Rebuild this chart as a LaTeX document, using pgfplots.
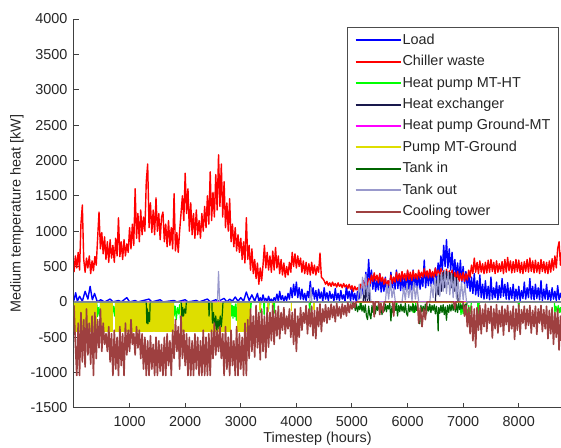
\documentclass[border=0pt]{standalone}
\usepackage{fontspec}
\setmainfont{Liberation Sans}
\usepackage{pgfplots}
\pgfplotsset{compat=1.18}

\definecolor{cload}{rgb}{0,0,1}
\definecolor{cchill}{rgb}{1,0,0}
\definecolor{chpht}{rgb}{0,1,0}
\definecolor{chex}{rgb}{0.1,0.1,0.3}
\definecolor{chpgr}{rgb}{1,0,1}
\definecolor{cpump}{rgb}{0.87,0.87,0}
\definecolor{ctin}{rgb}{0,0.4,0}
\definecolor{ctout}{rgb}{0.6,0.6,0.8}
\definecolor{ctower}{rgb}{0.62,0.25,0.25}

\newcommand{\fs}{\fontsize{7.2}{8.6}\selectfont}

\begin{document}
\fs
\begin{tikzpicture}
\begin{axis}[
    scale only axis,
    width=243.5pt, height=194.5pt,
    xmin=0, xmax=8760, ymin=-1500, ymax=4000,
    xtick={1000,2000,...,8000},
    ytick={-1500,-1000,...,4000},
    axis x line*=bottom, axis y line*=left,
    axis line style={-, black!75, line width=0.5pt},
    tick align=inside, major tick length=2.5pt,
    tick style={black!75, line width=0.5pt},
    /pgf/number format/1000 sep={},
    /pgf/number format/assume math mode=true,
    tick label style={font=\fs, text=black!85},
    xticklabel style={yshift=-1.5pt},
    yticklabel style={xshift=-0.7pt},
    xlabel={Timestep (hours)},
    ylabel={Medium temperature heat [kW]},
    xlabel style={at={(axis description cs:0.5,-0.0797)}, anchor=center, font=\fs, text=black!85},
    ylabel style={at={(axis description cs:-0.117,0.5)}, anchor=center, font=\fs, text=black!85},
    legend style={at={(rel axis cs:0.996,0.979)}, anchor=north east,
        draw=black!70, line width=0.5pt, fill=white,
        inner xsep=3.5pt, inner ysep=3pt, row sep=3.9pt, font=\fs,
        nodes={inner xsep=0.5pt, inner ysep=0pt, text height=5.3pt, text depth=1.5pt, text=black!85}},
    legend cell align=left,
    legend image code/.code={\draw[#1] (0pt,0pt) -- (22.5pt,0pt);},
    every axis plot/.append style={line join=round},
]
\addlegendimage{draw=cload, line width=1pt}\addlegendentry{Load}
\addlegendimage{draw=cchill, line width=1pt}\addlegendentry{Chiller waste}
\addlegendimage{draw=chpht, line width=1pt}\addlegendentry{Heat pump MT-HT}
\addlegendimage{draw=chex, line width=1pt}\addlegendentry{Heat exchanger}
\addlegendimage{draw=chpgr, line width=1pt}\addlegendentry{Heat pump Ground-MT}
\addlegendimage{draw=cpump, line width=1pt}\addlegendentry{Pump MT-Ground}
\addlegendimage{draw=ctin, line width=1pt}\addlegendentry{Tank in}
\addlegendimage{draw=ctout, line width=1pt}\addlegendentry{Tank out}
\addlegendimage{draw=ctower, line width=1pt}\addlegendentry{Cooling tower}

% Load
\addplot[cload, line width=0.7pt, forget plot] coordinates {
(0,20)(30,130)(60,10)(100,80)(150,10)(200,150)(250,40)(290,220)(330,30)(370,120)(420,0)(480,30)(550,0)(650,40)(700,0)(800,20)(850,0)(950,60)(1000,0)(1100,20)(1150,0)(1350,40)(1400,0)(1550,30)(1600,0)(1800,20)(1850,0)(2000,30)(2050,0)(2200,20)(2250,0)(2400,40)(2450,0)(2550,30)(2600,10)(2700,50)(2750,0)(2800,40)(2850,10)(2900,70)(2950,10)(3000,60)(3050,10)(3100,140)(3150,20)(3200,100)(3250,10)
(3300,120)(3325,10)(3350,60)(3375,0)(3400,100)(3425,20)(3450,50)(3475,0)(3500,80)(3525,10)(3550,40)(3575,0)(3600,60)(3625,20)(3650,110)(3675,10)(3700,150)(3725,30)(3750,90)(3775,10)(3800,80)(3825,20)(3850,120)(3875,40)(3900,200)(3925,60)(3950,250)(3975,90)(4000,280)(4025,60)(4050,200)(4075,40)(4100,180)(4125,30)(4150,120)(4175,20)(4200,150)(4225,60)(4250,290)(4275,80)(4300,200)(4325,40)(4350,160)(4375,20)(4400,180)(4425,50)(4450,140)(4475,10)(4500,200)(4525,40)(4550,130)(4575,20)(4600,150)(4625,50)(4650,110)(4675,10)(4700,190)(4725,30)(4750,120)(4775,20)(4800,160)(4825,40)(4850,100)(4875,10)(4900,230)(4925,50)(4950,150)(4975,20)
(5000,180)(5025,30)(5050,120)(5075,10)(5100,150)(5125,40)(5150,200)(5175,100)(5200,300)(5225,150)(5250,420)(5275,200)(5300,600)(5325,220)(5350,450)(5375,180)(5400,380)(5425,150)(5450,300)(5475,170)(5500,400)(5525,140)(5550,320)(5575,150)(5600,350)(5625,130)(5650,300)(5675,160)(5700,420)(5725,200)(5750,350)(5775,180)(5800,450)(5825,190)(5850,380)(5875,160)(5900,400)(5925,150)(5950,330)(5975,170)(6000,430)(6025,180)(6050,360)(6075,170)(6100,450)(6125,200)(6150,380)(6175,190)(6200,420)(6225,180)(6250,350)(6275,220)(6300,590)(6325,200)(6350,420)(6375,230)(6400,450)(6425,220)(6450,400)(6475,250)(6500,480)(6525,300)(6550,550)(6575,400)(6600,650)(6625,450)(6650,800)(6675,500)(6700,880)(6725,480)(6750,750)(6775,450)(6800,700)(6825,400)(6850,600)(6875,350)(6900,550)(6925,300)(6950,590)(6975,280)
(7000,500)(7025,250)(7050,430)(7075,200)(7100,400)(7125,150)(7150,350)(7175,120)(7200,400)(7225,100)(7250,300)(7275,80)(7300,380)(7325,60)(7350,250)(7375,40)(7400,300)(7425,50)(7450,220)(7475,30)(7500,350)(7525,40)(7550,200)(7575,60)(7600,280)(7625,30)(7650,230)(7675,60)(7700,330)(7725,80)(7750,250)(7775,40)(7800,270)(7825,30)(7850,200)(7875,50)(7900,250)(7925,20)(7950,180)(7975,40)(8000,220)(8025,20)(8050,160)(8075,50)(8100,280)(8125,40)(8150,200)(8175,60)(8200,330)(8225,40)(8250,220)(8275,30)(8300,250)(8325,50)(8350,200)(8375,30)(8400,300)(8425,20)(8450,180)(8475,40)(8500,250)(8525,30)(8550,160)(8575,20)(8600,200)(8625,40)(8650,150)(8675,20)(8700,230)(8725,30)(8750,120)(8760,60)
};

% Chiller waste
\addplot[cchill, line width=0.7pt, forget plot] coordinates {
(0,420)(25,650)(50,480)(75,700)(100,450)(125,1100)(150,1370)(175,600)(200,420)(225,620)(250,480)(275,650)(300,400)(325,580)(350,440)(375,640)(400,520)(425,900)(450,1270)(475,750)(500,980)(525,680)(550,920)(575,600)(600,850)(625,560)(650,880)(675,620)(700,800)(725,560)(750,900)(775,650)(800,1190)(825,640)(850,850)(875,600)(900,880)(925,650)(950,820)(975,700)
(1000,1050)(1025,750)(1050,1100)(1075,800)(1100,1600)(1125,900)(1150,1250)(1175,850)(1200,1300)(1225,950)(1250,1200)(1275,1000)(1300,1700)(1325,1950)(1350,1050)(1375,1400)(1400,980)(1425,1300)(1450,950)(1475,1470)(1500,1000)(1525,1250)(1550,880)(1575,1200)(1600,1270)(1625,850)(1650,1100)(1675,780)(1700,1150)(1725,800)(1750,1050)(1775,750)(1800,1530)(1825,720)(1850,980)(1875,700)(1900,1000)(1925,1250)(1950,1500)(1975,1150)
(2000,1820)(2025,1250)(2050,1600)(2075,1000)(2100,1400)(2125,950)(2150,1250)(2175,900)(2200,1300)(2225,950)(2250,1150)(2275,900)(2300,1250)(2325,1000)(2350,1350)(2375,1050)(2400,1500)(2425,1100)(2450,1840)(2475,1150)(2500,1550)(2525,1200)(2550,1800)(2575,1300)(2600,2080)(2625,1350)(2650,1950)(2675,1200)(2700,1700)(2725,1050)(2750,1400)(2775,1000)(2800,1460)(2825,850)(2850,1100)(2875,780)(2900,1050)(2925,720)(2950,950)(2975,700)
(3000,900)(3025,600)(3050,850)(3075,550)(3100,1190)(3125,600)(3150,800)(3175,450)(3200,750)(3225,400)(3250,600)(3275,330)(3300,550)(3325,250)(3350,480)(3375,300)(3400,520)(3425,800)(3450,480)(3475,700)(3500,450)(3525,650)(3550,420)(3575,720)(3600,450)(3625,770)(3650,480)(3675,650)(3700,400)(3725,600)(3750,380)(3775,550)(3800,350)(3825,500)(3850,380)(3875,560)(3900,420)(3925,700)(3950,500)(3975,680)
(4000,480)(4025,650)(4050,500)(4075,620)(4100,420)(4125,580)(4150,400)(4175,560)(4200,390)(4225,540)(4250,380)(4275,560)(4300,400)(4325,520)(4350,380)(4375,500)(4400,420)(4425,690)(4450,350)(4475,330)
(4500,300)(4525,250)(4550,290)(4575,230)(4600,270)(4625,220)(4650,280)(4675,230)(4700,260)(4725,210)(4750,270)(4775,220)(4800,250)(4825,200)(4850,260)(4875,210)(4900,240)(4925,190)(4950,250)(4975,180)
(5000,230)(5025,150)(5050,220)(5075,170)(5100,200)(5125,150)(5150,250)(5175,190)(5200,300)(5225,220)(5250,280)(5275,240)(5300,330)(5325,260)(5350,380)(5375,290)(5400,410)(5425,300)(5450,380)(5475,270)(5500,400)(5525,290)(5550,350)(5575,250)(5600,330)(5625,230)(5650,300)(5675,220)(5700,380)(5725,260)(5750,350)(5775,280)(5800,420)(5825,300)(5850,400)(5875,290)(5900,430)(5925,320)(5950,400)(5975,300)
(6000,450)(6025,320)(6050,420)(6075,300)(6100,440)(6125,330)(6150,400)(6175,320)(6200,450)(6225,340)(6250,420)(6275,350)(6300,470)(6325,360)(6350,440)(6375,340)(6400,460)(6425,350)(6450,430)(6475,340)(6500,480)(6525,370)(6550,450)(6575,350)(6600,470)(6625,340)(6650,440)(6675,330)(6700,460)(6725,340)(6750,440)(6775,320)(6800,450)(6825,330)(6850,420)(6875,310)(6900,430)(6925,290)(6950,400)(6975,300)
(7000,420)(7025,290)(7050,400)(7075,310)(7100,450)(7125,350)(7150,520)(7175,400)(7200,620)(7225,420)(7250,560)(7275,400)(7300,580)(7325,420)(7350,540)(7375,400)(7400,560)(7425,410)(7450,590)(7475,420)(7500,600)(7525,430)(7550,560)(7575,400)(7600,580)(7625,420)(7650,540)(7675,430)(7700,570)(7725,400)(7750,600)(7775,420)(7800,630)(7825,440)(7850,580)(7875,410)(7900,570)(7925,420)(7950,600)(7975,430)
(8000,590)(8025,410)(8050,560)(8075,400)(8100,570)(8125,430)(8150,600)(8175,420)(8200,620)(8225,430)(8250,580)(8275,410)(8300,590)(8325,420)(8350,560)(8375,400)(8400,600)(8425,430)(8450,570)(8475,410)(8500,560)(8525,400)(8550,580)(8575,420)(8600,610)(8625,450)(8650,650)(8675,480)(8700,750)(8725,850)(8750,520)(8760,700)
};

% Heat pump MT-HT
\addplot[chpht, line width=0.6pt, forget plot] coordinates {
(0,0)(10,-200)(20,-60)(30,0)(410,0)(420,-210)(440,-80)(460,-200)(480,0)(510,-180)(520,-100)(530,0)(680,0)(690,-160)(710,-60)(730,-200)(750,0)(860,0)(870,-180)(890,0)(1430,0)(1440,-100)(1450,0)(1790,0)(1800,-200)(1820,-60)(1840,-250)(1860,-80)(1880,-170)(1900,-40)(1915,-260)(1920,0)(2540,0)(2550,-200)(2560,0)(2820,0)(2830,-200)(2845,-50)(2860,-230)(2875,-60)(2890,-210)(2905,-30)(2920,-260)(2940,0)(3040,0)(3050,-200)(3060,0)(3170,0)(3180,-100)(3190,0)(3340,0)(3350,-150)(3360,0)(3410,0)(3420,-180)(3430,0)(3490,0)(3500,-110)(3510,0)(3590,0)(3600,-160)(3610,0)(4230,0)(4240,-180)(4250,0)(5140,0)(5150,-100)(5170,0)(5790,0)(5800,-120)(5810,0)(6090,0)(6100,-150)(6120,-60)(6140,-140)(6150,0)(6950,0)(6960,-180)(6980,-80)(7000,-170)(7020,-60)(7040,-180)(7060,-100)(7080,-160)(7100,-50)(7120,-170)(7150,0)(7260,0)(7270,-200)(7290,0)(7990,0)(8000,-100)(8010,0)(8640,0)(8650,-150)(8670,-60)(8690,-140)(8710,-50)(8730,-150)(8750,-80)(8760,-150)
};

% Heat exchanger
\addplot[chex, line width=0.6pt, forget plot] coordinates {
(0,0)(5200,0)(5220,200)(5240,0)(5260,250)(5280,20)(5300,230)(5320,0)(6500,0)(6520,300)(6550,100)(6580,380)(6610,150)(6640,420)(6670,200)(6700,430)(6730,250)(6760,420)(6790,200)(6820,400)(6850,150)(6880,350)(6910,0)(8760,0)
};

% Heat pump Ground-MT
\addplot[chpgr, line width=0.5pt, forget plot] coordinates {(0,0)(8760,0)};

% Pump MT-Ground
\addplot[cpump, fill=cpump, const plot, line width=0.3pt, forget plot] coordinates {
(0,-420)(15,0)(30,-420)(410,0)(480,-420)(510,0)(530,-420)(680,0)(750,-420)(870,0)(890,-420)(1430,0)(1450,-420)(1790,0)(1920,-420)(2540,0)(2560,-420)(2820,0)(2940,-420)(3040,0)(3060,-420)(3150,0)(3330,-100)(3345,0)(3480,-130)(3495,0)(3560,-90)(3575,0)(3900,-120)(3915,0)(4300,-100)(4315,0)(8760,0)
} \closedcycle;

% Tank in
\addplot[ctin, line width=0.6pt, forget plot] coordinates {
(0,0)(1300,0)(1310,-300)(1320,-100)(1330,-310)(1345,-150)(1360,-280)(1370,0)(1930,0)(1940,-210)(1955,-80)(1970,-200)(1990,-100)(2010,-160)(2020,0)(2420,0)(2430,-200)(2440,0)(2480,0)(2490,-300)(2510,-150)(2530,-380)(2550,-200)(2570,-400)(2590,-250)(2610,-380)(2630,-200)(2650,-350)(2670,-150)(2680,0)
(5000,0)(5020,-80)(5040,-20)(5060,-120)(5080,-30)(5100,-140)(5120,-60)(5140,-110)(5160,-20)(5180,-130)(5200,-50)(5220,-150)(5240,-40)(5260,-200)(5280,-250)(5300,-60)(5320,-180)(5340,-240)(5360,-50)(5380,-150)(5400,-30)(5420,-170)(5440,-60)(5460,-120)(5480,-20)(5500,-150)(5520,-40)(5540,-180)(5560,-70)(5580,-130)(5600,-30)(5620,-140)(5640,-50)(5660,-100)(5680,-20)(5700,-270)(5720,-60)(5740,-150)(5760,-40)(5780,-120)(5800,-30)(5820,-200)(5840,-50)(5860,-140)(5880,-30)(5900,-130)(5920,-60)(5940,-150)(5960,-20)(5980,-160)
(6000,-200)(6020,-40)(6040,-140)(6060,-60)(6080,-130)(6100,-30)(6120,-150)(6140,-50)(6160,-120)(6180,-40)(6200,-180)(6220,-310)(6240,-50)(6260,-140)(6280,-60)(6300,-150)(6320,-30)(6340,-170)(6360,-60)(6380,-130)(6400,-30)(6420,-150)(6440,-50)(6460,-120)(6480,-40)(6500,-170)(6520,-60)(6540,-200)(6550,-410)(6560,-80)(6580,-160)(6600,-50)(6620,-150)(6640,-40)(6660,-180)(6680,-70)(6700,-260)(6720,-50)(6740,-150)(6760,-40)(6780,-130)(6800,-30)(6820,-120)(6840,-40)(6860,-140)(6880,-30)(6900,-150)(6920,-20)(6940,-110)(6960,-40)(6980,-100)(7000,-20)(7020,-90)(7040,-30)(7060,-80)(7070,0)(8760,0)
};

% Tank out
\addplot[ctout, line width=0.6pt, forget plot] coordinates {
(0,0)(2580,0)(2600,430)(2620,0)(4240,0)(4260,200)(4280,0)(5100,0)(5130,250)(5160,50)(5190,350)(5220,100)(5250,390)(5280,50)(5310,300)(5340,0)(5600,0)(5630,250)(5660,40)(5690,300)(5720,60)(5750,200)(5780,0)(5900,0)(5930,200)(5960,30)(5990,260)(6020,60)(6050,230)(6080,20)(6110,280)(6140,40)(6170,220)(6200,0)(6400,0)(6430,250)(6460,60)(6490,350)(6520,100)(6550,400)(6580,80)(6610,420)(6640,150)(6670,450)(6700,120)(6730,420)(6760,100)(6790,400)(6820,60)(6850,350)(6880,40)(6910,300)(6940,20)(6970,280)(7000,30)(7030,250)(7060,0)(8760,0)
};

% Cooling tower
\addplot[ctower, line width=0.8pt, forget plot] coordinates {
(0,-50)(25,-600)(50,-1040)(75,-300)(100,-1040)(125,-150)(150,-850)(175,-250)(200,-920)(225,-100)(250,-750)(275,-300)(300,-880)(325,-200)(350,-1040)(375,-150)(400,-800)(425,-250)(450,-650)(475,-100)(500,-700)(525,-300)(550,-600)(575,-450)(600,-700)(625,-350)(650,-850)(675,-450)(700,-1040)(725,-400)(750,-950)(775,-500)(800,-1040)(825,-350)(850,-900)(875,-450)(900,-1040)(925,-300)(950,-750)(975,-400)
(1000,-700)(1025,-250)(1050,-600)(1075,-450)(1100,-750)(1125,-350)(1150,-650)(1175,-400)(1200,-800)(1225,-450)(1250,-950)(1275,-500)(1300,-1040)(1325,-550)(1350,-1040)(1375,-480)(1400,-950)(1425,-600)(1450,-1040)(1475,-500)(1500,-1040)(1525,-550)(1550,-980)(1575,-600)(1600,-1040)(1625,-500)(1650,-1040)(1675,-450)(1700,-900)(1725,-550)(1750,-1040)(1775,-400)(1800,-800)(1825,-250)(1850,-700)(1875,-350)(1900,-950)(1925,-200)(1950,-800)(1975,-400)
(2000,-900)(2025,-450)(2050,-1040)(2075,-500)(2100,-1040)(2125,-550)(2150,-1040)(2175,-450)(2200,-950)(2225,-500)(2250,-1040)(2275,-550)(2300,-1040)(2325,-400)(2350,-1040)(2375,-500)(2400,-1040)(2425,-450)(2450,-1040)(2475,-400)(2500,-800)(2525,-300)(2550,-750)(2575,-400)(2600,-700)(2625,-350)(2650,-800)(2675,-450)(2700,-1040)(2725,-350)(2750,-950)(2775,-500)(2800,-1040)(2825,-400)(2850,-900)(2875,-550)(2900,-1040)(2925,-350)(2950,-1040)(2975,-450)
(3000,-950)(3025,-500)(3050,-1040)(3075,-300)(3100,-1040)(3125,-250)(3150,-800)(3175,-100)(3200,-700)(3225,-200)(3250,-780)(3275,-50)(3300,-650)(3325,-150)(3350,-820)(3375,-100)(3400,-700)(3425,-200)(3450,-790)(3475,-80)(3500,-640)(3525,-150)(3550,-550)(3575,-50)(3600,-600)(3625,-120)(3650,-480)(3675,-60)(3700,-520)(3725,-150)(3750,-400)(3775,-80)(3800,-450)(3825,-200)(3850,-380)(3875,-100)(3900,-500)(3925,-150)(3950,-600)(3975,-100)
(4000,-700)(4025,-200)(4050,-500)(4075,-80)(4100,-400)(4125,-150)(4150,-300)(4175,-50)(4200,-450)(4225,-100)(4250,-350)(4275,-60)(4300,-480)(4325,-120)(4350,-520)(4375,-80)(4400,-350)(4425,-30)(4450,-420)(4475,-100)(4500,-280)(4525,-40)(4550,-300)(4575,-80)(4600,-250)(4625,-30)(4650,-220)(4675,-60)(4700,-280)(4725,-20)(4750,-200)(4775,-70)(4800,-230)(4825,-30)(4850,-180)(4875,-50)(4900,-200)(4925,-10)(4950,-150)(4975,-30)
(5000,-100)(5025,-10)(5050,-80)(5075,0)(5380,0)(5400,-210)(5420,0)(5480,0)(5500,-180)(5520,-20)(5560,-150)(5580,0)(5730,0)(5750,-200)(5770,0)(6180,0)(6200,-300)(6230,-80)(6260,-350)(6290,-100)(6320,-250)(6350,0)(6830,0)(6850,-100)(6870,0)
(7000,0)(7025,-200)(7050,-50)(7075,-350)(7100,-80)(7125,-450)(7150,-60)(7175,-550)(7200,-100)(7225,-640)(7250,-80)(7275,-400)(7300,-50)(7325,-450)(7350,-100)(7375,-350)(7400,-30)(7425,-420)(7450,-90)(7475,-300)(7500,-60)(7525,-510)(7550,-100)(7575,-380)(7600,-40)(7625,-440)(7650,-120)(7675,-350)(7700,-60)(7725,-470)(7750,-100)(7775,-320)(7800,-50)(7825,-420)(7850,-130)(7875,-380)(7900,-60)(7925,-530)(7950,-100)(7975,-400)
(8000,-40)(8025,-460)(8050,-110)(8075,-300)(8100,-60)(8125,-380)(8150,-100)(8175,-330)(8200,-50)(8225,-440)(8250,-120)(8275,-350)(8300,-60)(8325,-460)(8350,-100)(8375,-300)(8400,-50)(8425,-420)(8450,-110)(8475,-380)(8500,-60)(8525,-520)(8550,-120)(8575,-450)(8600,-80)(8625,-600)(8650,-150)(8675,-500)(8700,-100)(8725,-680)(8750,-200)(8760,-550)
};

\coordinate (bl) at (rel axis cs:0,0);
\coordinate (tr) at (rel axis cs:1,1);
\end{axis}
\pgfresetboundingbox
\path[use as bounding box] ([xshift=-37pt,yshift=-20pt]bl) rectangle ([yshift=9.5pt]tr);
\end{tikzpicture}
\end{document}
